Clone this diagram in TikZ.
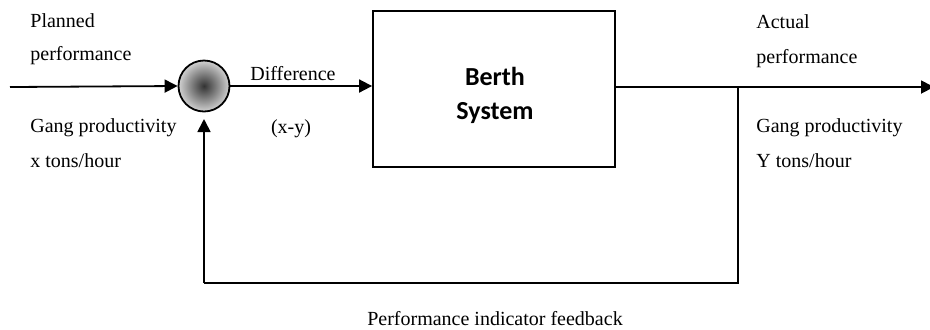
\documentclass[tikz,border=0pt]{standalone}
\usepackage{fontspec}
\setmainfont{Liberation Serif}
\newfontfamily\boxfont{Carlito}
\usetikzlibrary{arrows.meta}
\begin{document}
\begin{tikzpicture}[x=0.5pt,y=-0.5pt,
  line/.style={line width=0.9pt},
  arr/.style={line, -{Triangle[length=6.5pt,width=6.5pt]}},
  lbl/.style={font=\fontsize{10}{12}\selectfont, inner sep=0pt, anchor=base west},
  clbl/.style={font=\fontsize{10}{12}\selectfont, inner sep=0pt, anchor=base},
  sumnode/.style={circle, draw, line width=0.9pt, minimum size=25.5pt, inner sep=0pt, inner color=black!80, outer color=black!18},
  sysbox/.style={draw, line width=0.9pt, minimum width=121pt, minimum height=78pt, inner sep=0pt}
]
\useasboundingbox (0,0) rectangle (930,329);
\fill[white] (0,0) rectangle (930,329);
\coordinate (in) at (10,87);
\node[sumnode] (sum) at (204,86) {};
\node[sysbox] (sys) at (494,89) {};
\node[font=\boxfont\bfseries\fontsize{13}{17}\selectfont, align=center, inner sep=0pt] (systxt) at (495,95) {Berth\\System};
\coordinate (out) at (934,87);
\coordinate (tap) at (738,87);
\coordinate (br) at (738,283);
\coordinate (bl) at (204,283);
\coordinate (fbtip) at (204,119);
\draw[arr] (in) -- (sum.west);
\draw[arr] (sum.east) -- (sys.west |- sum.east);
\draw[arr] (sys.east |- out) -- (out);
\draw[line] (tap) -- (br) -- (bl);
\draw[arr] (bl) -- (fbtip);
\node[lbl] (p1) at (30,27) {Planned};
\node[lbl] (p2) at (30,60) {performance};
\node[lbl] (g1) at (30,132) {Gang productivity};
\node[lbl] (g2) at (30,167) {x tons/hour};
\node[clbl] (d1) at (293,80) {Difference};
\node[clbl] (d2) at (291,133) {(x-y)};
\node[lbl] (a1) at (756,28) {Actual};
\node[lbl] (a2) at (756,63) {performance};
\node[lbl] (g3) at (756,132) {Gang productivity};
\node[lbl] (g4) at (756,167) {Y tons/hour};
\node[clbl] (fb) at (495,325) {Performance indicator feedback};
\end{tikzpicture}
\end{document}
